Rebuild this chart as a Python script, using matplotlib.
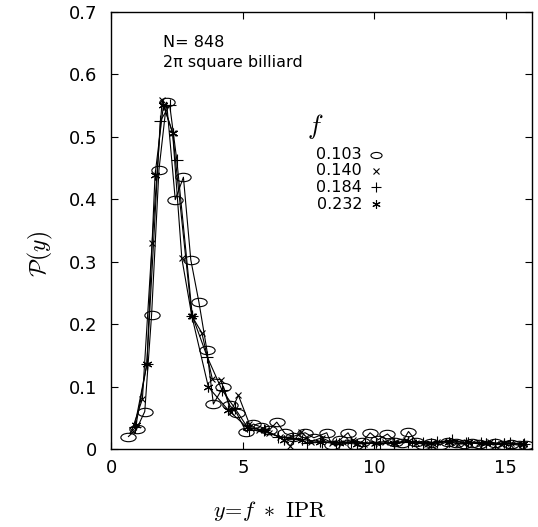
import matplotlib
matplotlib.use("Agg")
import matplotlib.pyplot as plt
from matplotlib.path import Path
from matplotlib.transforms import Affine2D
from matplotlib.ticker import FuncFormatter

plt.rcParams['font.family'] = ['DejaVu Sans']
plt.rcParams['mathtext.fontset'] = 'cm'

# f = 0.103 (circles)
x_103 = [0.65, 0.96, 1.27, 1.53, 1.81, 2.10, 2.43, 2.74, 3.02, 3.33, 3.63, 3.88, 4.26, 4.50,
         4.77, 5.12, 5.40, 5.70, 6.00, 6.29, 6.60, 6.90, 7.37, 7.70, 8.19, 8.38, 8.70, 9.00,
         9.27, 9.55, 9.84, 10.15, 10.50, 10.80, 11.05, 11.30, 11.60, 11.85, 12.15, 12.50,
         12.80, 13.10, 13.40, 13.70, 14.00, 14.30, 14.60, 14.90, 15.20, 15.50, 15.75]
y_103 = [0.020, 0.032, 0.060, 0.215, 0.447, 0.555, 0.399, 0.435, 0.303, 0.235, 0.159, 0.072,
         0.100, 0.070, 0.057, 0.028, 0.040, 0.035, 0.030, 0.043, 0.025, 0.020, 0.026, 0.018,
         0.026, 0.007, 0.015, 0.026, 0.007, 0.012, 0.026, 0.015, 0.024, 0.012, 0.010, 0.028,
         0.012, 0.007, 0.010, 0.007, 0.012, 0.009, 0.008, 0.010, 0.008, 0.006, 0.009, 0.007,
         0.008, 0.006, 0.007]

# f = 0.140 (x)
x_140 = [0.78, 1.18, 1.55, 1.93, 2.33, 2.68, 3.06, 3.44, 3.84, 4.16, 4.55, 4.83, 5.25, 5.60,
         6.00, 6.40, 6.80, 7.20, 7.60, 8.00, 8.40, 8.80, 9.20, 9.60, 10.0, 10.4, 10.8, 11.2,
         11.6, 12.0, 12.4, 12.8, 13.2, 13.6, 14.0, 14.4, 14.8, 15.2, 15.6]
y_140 = [0.030, 0.080, 0.330, 0.558, 0.506, 0.305, 0.213, 0.186, 0.112, 0.111, 0.060, 0.086,
         0.040, 0.030, 0.025, 0.020, 0.005, 0.028, 0.012, 0.018, 0.010, 0.012, 0.015, 0.008,
         0.010, 0.012, 0.009, 0.014, 0.010, 0.008, 0.011, 0.013, 0.008, 0.010, 0.009, 0.011,
         0.008, 0.009, 0.007]

# f = 0.184 (+)
x_184 = [0.88, 1.35, 1.86, 2.22, 2.49, 3.08, 3.65, 4.20, 4.70, 5.25, 5.80, 6.35, 6.90, 7.45,
         8.00, 8.55, 9.10, 9.65, 10.2, 10.75, 11.3, 11.85, 12.4, 12.95, 13.5, 14.05, 14.6,
         15.15, 15.7]
y_184 = [0.035, 0.136, 0.525, 0.550, 0.462, 0.213, 0.147, 0.095, 0.065, 0.030, 0.030, 0.020,
         0.018, 0.010, 0.012, 0.008, 0.012, 0.010, 0.009, 0.010, 0.012, 0.010, 0.011, 0.014,
         0.009, 0.010, 0.008, 0.009, 0.008]

# f = 0.232 (asterisk)
x_232 = [0.94, 1.35, 1.66, 1.98, 2.33, 3.06, 3.69, 4.43, 5.15, 5.85, 6.55, 7.25, 7.95, 8.65,
         9.35, 10.05, 10.75, 11.45, 12.15, 12.85, 13.55, 14.25, 14.95, 15.65]
y_232 = [0.039, 0.136, 0.438, 0.550, 0.506, 0.213, 0.099, 0.063, 0.035, 0.030, 0.015, 0.015,
         0.012, 0.010, 0.008, 0.010, 0.009, 0.012, 0.010, 0.012, 0.011, 0.010, 0.009, 0.008]

f_labels = ['0.103', '0.140', '0.184', '0.232']

ellipse = Path.unit_circle().transformed(Affine2D().scale(1.0, 0.55))

series = [
    (x_103, y_103, dict(marker=ellipse, markersize=11, markerfacecolor='none')),
    (x_140, y_140, dict(marker='x', markersize=4.5)),
    (x_184, y_184, dict(marker='+', markersize=8)),
    (x_232, y_232, dict(marker=(6, 2, 0), markersize=7)),
]
legend_marks = [
    dict(marker=ellipse, markersize=8, markerfacecolor='none'),
    dict(marker='x', markersize=4.5),
    dict(marker='+', markersize=7),
    dict(marker=(6, 2, 0), markersize=6),
]

fig = plt.figure(figsize=(5.38, 5.27), dpi=100)
ax = fig.add_axes([0.207, 0.148, 0.782, 0.830])

for xs, ys, style in series:
    ax.plot(xs, ys, color='black', linewidth=0.8, markeredgecolor='black',
            markeredgewidth=0.8, **style)

ax.set_xlim(0, 16)
ax.set_ylim(0, 0.7)
ax.set_xticks([0, 5, 10, 15])
ax.set_yticks([0, 0.1, 0.2, 0.3, 0.4, 0.5, 0.6, 0.7])
ax.yaxis.set_major_formatter(FuncFormatter(lambda v, p: '0' if v == 0 else '%.1f' % v))
ax.tick_params(direction='in', length=5, width=0.8, top=True, right=True, labelsize=13)
ax.tick_params(axis='y', pad=10)
ax.tick_params(axis='x', pad=7)
for s in ax.spines.values():
    s.set_linewidth(1.0)

ax.set_ylabel(r'$\mathcal{P}(y)$', fontsize=17)
ax.yaxis.set_label_coords(-0.135, 0.445)
ax.set_xlabel(r'$y\!=\!f\ *\ \mathrm{IPR}$', fontsize=16)
ax.xaxis.set_label_coords(0.377, -0.115)

ax.text(0.123, 0.929, 'N= 848', transform=ax.transAxes, fontsize=11.5, va='center')
ax.text(0.123, 0.883, '2π square billiard', transform=ax.transAxes,
        fontsize=11.5, va='center')

# hand made key
ax.text(0.484, 0.737, r'$f$', transform=ax.transAxes, fontsize=19, ha='center', va='center')
key_y = [0.673, 0.636, 0.598, 0.559]
for lab, ky, mk in zip(f_labels, key_y, legend_marks):
    ax.text(0.596, ky, lab, transform=ax.transAxes, fontsize=11.5, ha='right', va='center')
    ax.plot([0.629], [ky], transform=ax.transAxes, color='black', markeredgecolor='black',
            markeredgewidth=0.8, clip_on=False, **mk)

fig.savefig('out.png', dpi=100)
